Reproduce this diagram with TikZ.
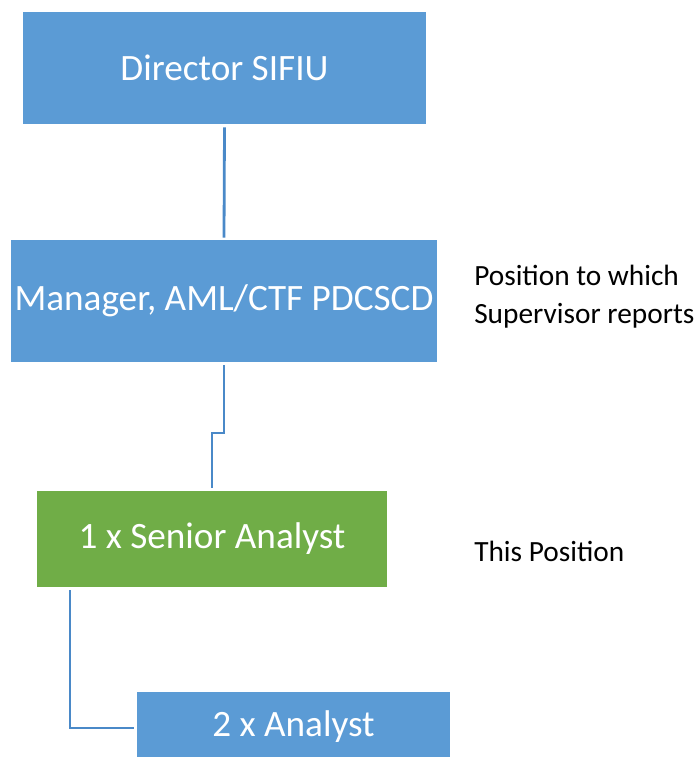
\documentclass[tikz,border=0pt]{standalone}
\usepackage{fontspec}
\setmainfont{Carlito}
\definecolor{boxblue}{HTML}{5B9BD5}
\definecolor{boxgreen}{HTML}{70AD47}
\definecolor{linkblue}{HTML}{4A89C8}
\begin{document}
\begin{tikzpicture}[x=0.75pt,y=-0.75pt,
  orgbox/.style={draw=none, rectangle, inner sep=0pt, text=white,
    font=\fontsize{27.9}{33}\selectfont},
  bluebox/.style={orgbox, fill=boxblue},
  greenbox/.style={orgbox, fill=boxgreen},
  link/.style={draw=linkblue, line width=2.1pt},
  note/.style={anchor=west, align=left, inner sep=0pt,
    font=\fontsize{22}{28.5}\selectfont}]
\useasboundingbox (0,0) rectangle (696,757);
\clip (0,0) rectangle (696,757);
\node[bluebox, minimum width=403*0.75pt, minimum height=112*0.75pt] (dir) at (224.5,68) {Director SIFIU};
\node[bluebox, minimum width=426*0.75pt, minimum height=122*0.75pt] (mgr) at (224,301) {Manager, AML/CTF PDCSCD};
\node[greenbox, minimum width=350*0.75pt, minimum height=96*0.75pt] (sen) at (212,539) {1 x Senior Analyst};
\node[bluebox, minimum width=313*0.75pt, minimum height=70*0.75pt] (ana) at (293.5,727) {2 x Analyst};
\node[note] (n1) at (474,297) {Position to which\\Supervisor reports};
\node[note] (n2) at (474,551) {This Position};
\coordinate (b1) at (224,433);
\coordinate (b2) at (212,433);
\coordinate (c1) at (70,587);
\coordinate (c2) at (70,728);
\draw[link] ([yshift=-3*0.75pt]dir.south) -- ([yshift=2*0.75pt]mgr.north);
\draw[link] ([yshift=-3*0.75pt]mgr.south) -- (b1) -- (b2) -- ([yshift=3*0.75pt]b2 |- sen.north);
\draw[link] ([yshift=-3*0.75pt]c1) -- (c2) -- ([xshift=-3*0.75pt]ana.west |- c2);
\end{tikzpicture}
\end{document}
